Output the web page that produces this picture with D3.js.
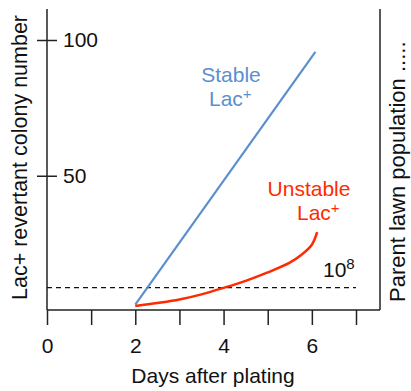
<!DOCTYPE html>
<html><head><meta charset="utf-8">
<script src="https://cdn.jsdelivr.net/npm/d3@7"></script>
<style>
body{margin:0;background:#fff;}
text{font-family:"Liberation Sans",Arial,Helvetica,sans-serif;}
</style></head>
<body><svg id="c" width="411" height="391"></svg>
<script>
const xTicks = [0,1,2,3,4,5,6,7];
const xTickLabels = ["0","","2","","4","","6",""];
const yTicks = [50,100];
const stableDays = [2, 6.08];
const stableValues = [2.5, 95.6];
const unstableDays = [2, 2.5, 3, 3.5, 4, 4.5, 5, 5.5, 5.75, 6, 6.12];
const unstableValues = [2, 3.1, 4.4, 6.3, 8.7, 11.3, 14.4, 18.0, 20.7, 24.6, 29.2];
const lawnLevel = 8.8;

const svg = d3.select("#c");
const x = d3.scaleLinear().domain([0,7]).range([47,356]);
const y = d3.scaleLinear().domain([0,100]).range([311.5,40]);
const axisCol = "#222";

// frame lines
svg.append("line").attr("x1",47).attr("x2",47).attr("y1",9).attr("y2",310).attr("stroke",axisCol).attr("stroke-width",1.5);
svg.append("line").attr("x1",47).attr("x2",380).attr("y1",310).attr("y2",310).attr("stroke",axisCol).attr("stroke-width",1.5);
svg.append("line").attr("x1",380).attr("x2",380).attr("y1",9).attr("y2",310).attr("stroke",axisCol).attr("stroke-width",1.5);

// bottom axis
const gx = svg.append("g").attr("transform","translate(0,310)")
  .call(d3.axisBottom(x).tickValues(xTicks).tickSizeInner(15).tickSizeOuter(0)
    .tickFormat((d,i)=>xTickLabels[i]));
gx.select(".domain").remove();
gx.selectAll(".tick line").attr("stroke",axisCol).attr("stroke-width",1.5);
gx.selectAll(".tick text").attr("y",43).attr("dy",0).attr("fill","#111")
  .style("font-size","21px").style("font-family","'Liberation Sans',Arial,sans-serif");

// left axis
const gy = svg.append("g").attr("transform","translate(47,0)")
  .call(d3.axisRight(y).tickValues(yTicks).tickSizeInner(10).tickSizeOuter(0).tickPadding(6));
gy.select(".domain").remove();
gy.selectAll(".tick line").attr("x1",-10).attr("stroke",axisCol).attr("stroke-width",1.5);
gy.selectAll(".tick text").attr("fill","#111")
  .style("font-size","21px").style("font-family","'Liberation Sans',Arial,sans-serif");

// dashed lawn line
svg.append("line").attr("x1",x(0)).attr("x2",x(7)).attr("y1",y(lawnLevel)).attr("y2",y(lawnLevel))
  .attr("stroke","#111").attr("stroke-width",1.3).attr("stroke-dasharray","5,4");

// series
const line = d3.line().x(d=>x(d[0])).y(d=>y(d[1]));
svg.append("path").datum(stableDays.map((d,i)=>[d,stableValues[i]]))
  .attr("d",line).attr("fill","none").attr("stroke","#5b8fcf").attr("stroke-width",2.2);
svg.append("path").datum(unstableDays.map((d,i)=>[d,unstableValues[i]]))
  .attr("d",line.curve(d3.curveCatmullRom.alpha(0.5))).attr("fill","none").attr("stroke","#ff2a00").attr("stroke-width",2.5);

// annotations
function sup(sel, base, s, fs, raise){
  sel.append("tspan").text(base);
  sel.append("tspan").text(s).style("font-size",fs+"px").attr("dy",-raise);
}
svg.append("text").attr("x",231).attr("y",82).attr("text-anchor","middle")
  .attr("fill","#5b8fcf").style("font-size","21px").text("Stable");
sup(svg.append("text").attr("x",209).attr("y",106).attr("fill","#5b8fcf").style("font-size","21px"),"Lac","+",15,7);

svg.append("text").attr("x",309).attr("y",196).attr("text-anchor","middle")
  .attr("fill","#ff2a00").style("font-size","21px").text("Unstable");
sup(svg.append("text").attr("x",297).attr("y",220).attr("fill","#ff2a00").style("font-size","21px"),"Lac","+",15,7);

sup(svg.append("text").attr("x",323).attr("y",277).attr("fill","#111").style("font-size","21px"),"10","8",15,8);

// axis titles
svg.append("text").attr("x",213).attr("y",383).attr("text-anchor","middle").attr("fill","#111")
  .style("font-size","21px").text("Days after plating");
svg.append("text").attr("transform","translate(27,300) rotate(-90)").attr("text-anchor","start").attr("fill","#111")
  .style("font-size","21.5px").text("Lac+ revertant colony number");
svg.append("text").attr("transform","translate(405,302) rotate(-90)").attr("text-anchor","start").attr("fill","#111")
  .style("font-size","22px").text("Parent lawn population .....");
</script></body></html>
